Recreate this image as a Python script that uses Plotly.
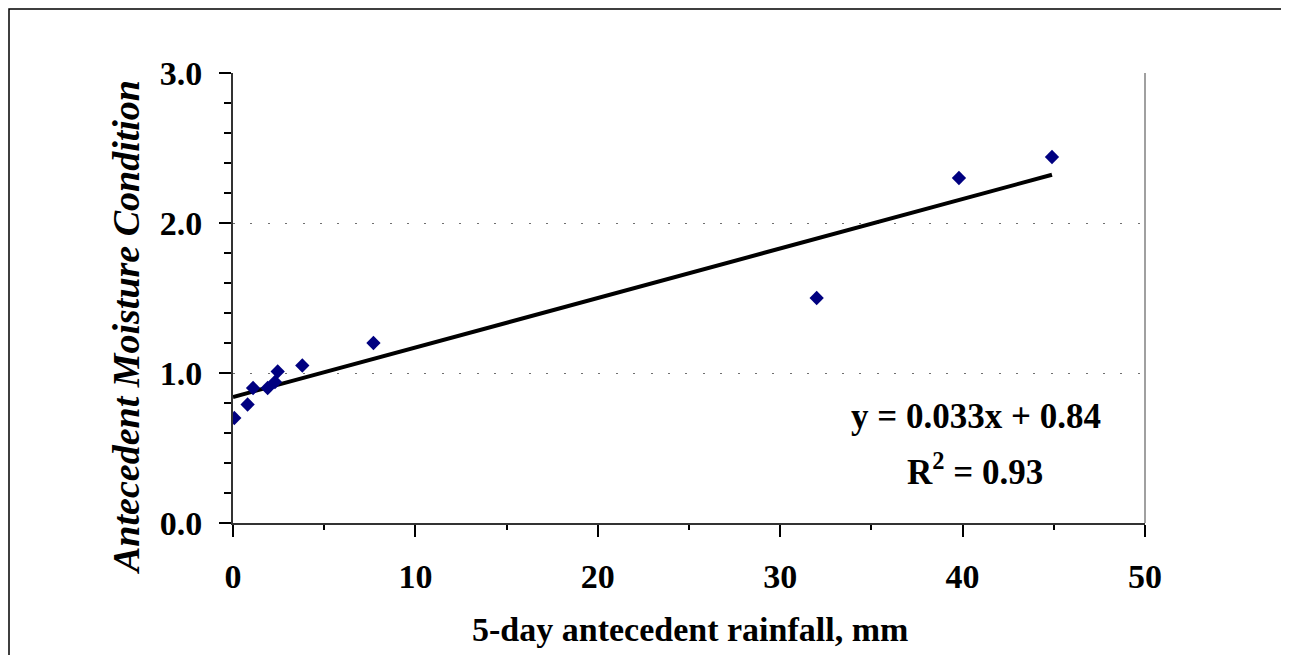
import plotly.graph_objects as go

# Data
rain_mm = [0.07, 0.8, 1.1, 1.9, 2.3, 2.45, 3.8, 7.7, 32.0, 39.8, 44.9]
amc = [0.70, 0.79, 0.90, 0.90, 0.94, 1.01, 1.05, 1.20, 1.50, 2.30, 2.44]

# Trend line as stated on the chart
slope = 0.033
intercept = 0.84
trend_x = [0.0, max(rain_mm)]
trend_y = [slope * v + intercept for v in trend_x]

x_ticks = [0, 10, 20, 30, 40, 50]
y_ticks = [0.0, 1.0, 2.0, 3.0]
eq_text = "y = 0.033x + 0.84"
r2_text = "R<sup>2</sup> = 0.93"
x_title = "5-day antecedent rainfall, mm"
y_title = "Antecedent Moisture Condition"

FONT = "Liberation Serif, Times New Roman, serif"
W, H = 1289, 655
OFF = 8  # page body margin
# plot area in page pixels
PX0, PX1, PY0, PY1 = 233, 1145, 73, 523
L, T = PX0 - OFF, PY0 - OFF
pw, ph = PX1 - PX0, PY1 - PY0
R = W - L - pw
B = H - T - ph

def px_x(p):
    return (p - PX0) / pw

def px_y(p):
    return (PY1 - p) / ph

fig = go.Figure()
fig.add_trace(go.Scatter(
    x=trend_x, y=trend_y, mode="lines",
    line=dict(color="black", width=4), showlegend=False, hoverinfo="skip"))
fig.add_trace(go.Scatter(
    x=rain_mm, y=amc, mode="markers",
    marker=dict(symbol="diamond", size=11, color="#000080"),
    showlegend=False))

fig.update_layout(
    width=W, height=H,
    margin=dict(l=L, r=R, t=T, b=B, autoexpand=False),
    paper_bgcolor="white", plot_bgcolor="white",
    font=dict(family=FONT, size=34, color="black"),
    xaxis=dict(
        range=[0, 50], tickvals=x_ticks, ticktext=[str(v) for v in x_ticks],
        showgrid=False, zeroline=False,
        showline=True, linecolor="#333333", linewidth=2,
        ticks="outside", ticklen=12, tickwidth=2, tickcolor="black",
        minor=dict(dtick=5, ticks="outside", ticklen=5, tickwidth=1.5, tickcolor="black", showgrid=False),
        tickfont=dict(family=FONT, size=34, color="black", weight="bold"),
        ticklabelstandoff=10,
    ),
    yaxis=dict(
        range=[0, 3], tickvals=y_ticks, ticktext=[f"{v:.1f}" for v in y_ticks],
        showgrid=True, gridcolor="#707070", gridwidth=1.2, griddash="2px,15.4px",
        zeroline=False,
        showline=True, linecolor="#333333", linewidth=2,
        ticks="outside", ticklen=12, tickwidth=2, tickcolor="black",
        minor=dict(dtick=0.2, ticks="outside", ticklen=7, tickwidth=1.5, tickcolor="black", showgrid=False),
        tickfont=dict(family=FONT, size=34, color="black", weight="bold"),
        ticklabelstandoff=10,
    ),
)

shapes = [
    # right border of plot area (gray)
    dict(type="line", xref="paper", yref="paper", x0=1, x1=1, y0=0, y1=1,
         line=dict(color="#a0a0a0", width=2)),
    # outer chart border (cropped on right and bottom)
    dict(type="rect", xref="paper", yref="paper",
         x0=px_x(9), x1=px_x(W + 30), y0=px_y(H + 30), y1=px_y(9),
         line=dict(color="black", width=1.5), fillcolor="rgba(0,0,0,0)", layer="below"),
]
fig.update_layout(shapes=shapes)

annotations = [
    dict(text=eq_text, x=px_x(976), y=px_y(416), xref="paper", yref="paper",
         showarrow=False, xanchor="center", yanchor="middle",
         font=dict(family=FONT, size=35, color="black", weight="bold")),
    dict(text=r2_text, x=px_x(975), y=px_y(469), xref="paper", yref="paper",
         showarrow=False, xanchor="center", yanchor="middle",
         font=dict(family=FONT, size=35, color="black", weight="bold")),
    dict(text=x_title, x=px_x(690), y=px_y(629), xref="paper", yref="paper",
         showarrow=False, xanchor="center", yanchor="middle",
         font=dict(family=FONT, size=34, color="black", weight="bold")),
    dict(text=y_title, x=px_x(126), y=px_y(327), xref="paper", yref="paper",
         showarrow=False, xanchor="center", yanchor="middle", textangle=-90,
         font=dict(family=FONT, size=38, color="black", weight="bold", style="italic")),
]
fig.update_layout(annotations=annotations)

fig.write_html("out.html")
